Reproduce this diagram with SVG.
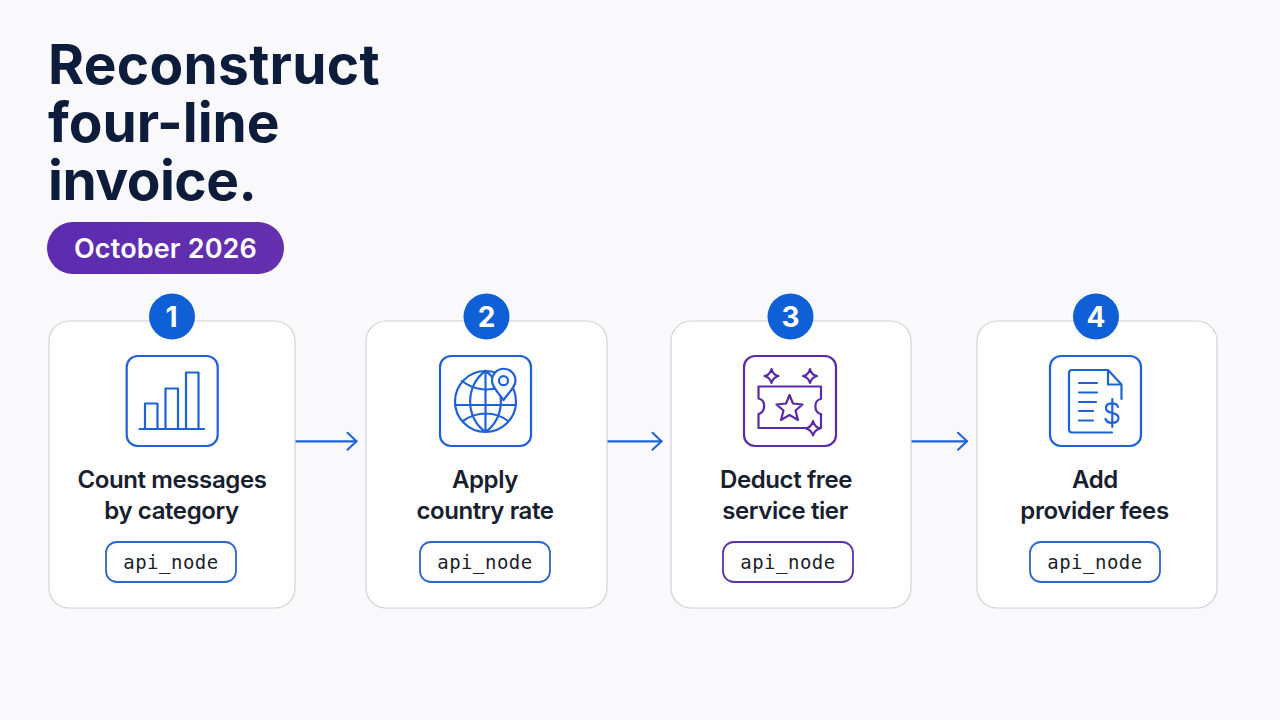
<svg xmlns="http://www.w3.org/2000/svg" width="1280" height="720" viewBox="0 0 1280 720">
<defs>
<linearGradient id="pill" x1="0" y1="0" x2="1" y2="0"><stop offset="0" stop-color="#5b2bb0"/><stop offset="1" stop-color="#6530ae"/></linearGradient>
<marker id="arr" markerUnits="userSpaceOnUse" markerWidth="20" markerHeight="24" refX="15" refY="12" orient="auto" overflow="visible"><path d="M6 3.500L15 12L6 20.500" fill="none" stroke="#1f62d8" stroke-width="2" stroke-linecap="round" stroke-linejoin="round"/></marker>
</defs>
<style>
text{font-family:Inter,"Noto Sans",sans-serif}
.title{font-size:55px;font-weight:700;fill:#0e1c3b}
.pilltxt{font-size:27px;font-weight:600;fill:#fff;text-anchor:middle;letter-spacing:.15px}
.card{fill:#fff;stroke:#d0d2d8;stroke-width:1.2}
.badge{fill:#0f5fd6}
.num{font-size:28px;font-weight:700;fill:#fff;text-anchor:middle}
.lbl{font-size:24px;font-weight:600;fill:#16202f;text-anchor:middle;letter-spacing:-.4px}
.mono{font-family:"DejaVu Sans Mono","Liberation Mono",monospace;font-size:19px;fill:#1a1f2b;text-anchor:middle;letter-spacing:.5px}
.b{fill:none;stroke:#1f62d8;stroke-width:2.200;stroke-linecap:round;stroke-linejoin:round}
.p{fill:none;stroke:#5a2aa8;stroke-width:2.200;stroke-linecap:round;stroke-linejoin:round}
.tagb{fill:#fff;stroke:#2a66cc;stroke-width:1.800}
.tagp{fill:#fff;stroke:#5e33a8;stroke-width:1.800}
</style>
<rect width="1280" height="720" fill="#f9f9fb"/>
<g id="title">
<text class="title" x="48" y="84" style="letter-spacing:.3px">Reconstruct</text>
<text class="title" x="48" y="142">four-line</text>
<text class="title" x="48" y="200" style="letter-spacing:-.5px">invoice.</text>
</g>
<g id="period">
<rect x="47" y="222" width="237" height="52" rx="26" fill="url(#pill)"/>
<text class="pilltxt" x="165.500" y="258">October 2026</text>
</g>
<g id="connectors">
<path class="b" d="M296 441.300H356.500" marker-end="url(#arr)"/>
<path class="b" d="M607 441.300H661.500" marker-end="url(#arr)"/>
<path class="b" d="M912 441.300H967" marker-end="url(#arr)"/>
</g>
<g id="node1">
<rect class="card" x="49" y="321" width="246" height="287" rx="20"/>
<circle class="badge" cx="172" cy="316.500" r="23"/>
<text class="num" x="171.500" y="326.500">1</text>
<rect class="b" x="126.700" y="356" width="91" height="90" rx="11"/>
<path class="b" d="M139.500 429H204M145 429V403.500H157.500V429M165.500 429V388.500H178V429M186 429V372.500H198.500V429"/>
<text class="lbl" x="172" y="488">Count messages</text>
<text class="lbl" x="171.500" y="519">by category</text>
<rect class="tagb" x="106" y="542" width="130" height="40" rx="11"/>
<text class="mono" x="171" y="568.500">api_node</text>
</g>
<g id="node2">
<rect class="card" x="366" y="321" width="241" height="287" rx="20"/>
<circle class="badge" cx="486.500" cy="316.500" r="23"/>
<text class="num" x="486.500" y="326.500">2</text>
<rect class="b" x="440" y="356" width="91" height="90" rx="11"/>
<circle class="b" cx="485.500" cy="401.500" r="30.500"/>
<path class="b" d="M485.500 371C465 385 465 418 485.500 432C506 418 506 385 485.500 371M485.500 371V432M455 405H516M462 381C475 391 490 391 500 387M463 421C477 411 495 411 508 421"/>
<path class="b" style="fill:#fff" d="M503.500 400C497 391 492 387 492 380.500A11.700 11.700 0 0 1 515.500 380.500C515.500 387 510 391 503.500 400Z"/>
<circle class="b" cx="503.500" cy="380.700" r="4.500"/>
<text class="lbl" x="485" y="488">Apply</text>
<text class="lbl" x="485" y="519">country rate</text>
<rect class="tagb" x="420" y="542" width="130" height="40" rx="11"/>
<text class="mono" x="485" y="568.500">api_node</text>
</g>
<g id="node3">
<rect class="card" x="671" y="321" width="240" height="287" rx="20"/>
<circle class="badge" cx="790.500" cy="316.500" r="23"/>
<text class="num" x="790.500" y="326.500">3</text>
<rect class="p" x="744" y="356" width="92" height="90" rx="11"/>
<path class="p" d="M758.500 386.500H821V399C813.500 400 813.500 412 821 414V428H758.500V414C766 412 766 400 758.500 398.500Z"/>
<path class="p" d="M789.500 395L793 403.500L802.500 404.500L795.500 410.500L798 420L789.500 415L781 420L783.500 410.500L776.500 404.500L786 403.500Z"/>
<path class="p" d="M771.500 369Q773 375 778.500 376Q773 377.500 771.500 383Q770 377.500 764.500 376Q770 375 771.500 369ZM810 369Q811.500 375 817 376Q811.500 377.500 810 383Q808.500 377.500 803 376Q808.500 375 810 369Z"/>
<path class="p" style="fill:#fff" d="M813 421Q814.500 427 820 428.500Q814.500 430 813 435.500Q811.500 430 806 428.500Q811.500 427 813 421Z"/>
<text class="lbl" x="786" y="488">Deduct free</text>
<text class="lbl" x="785" y="519">service tier</text>
<rect class="tagp" x="723" y="542" width="130" height="40" rx="11"/>
<text class="mono" x="788" y="568.500">api_node</text>
</g>
<g id="node4">
<rect class="card" x="977" y="321" width="240" height="287" rx="20"/>
<circle class="badge" cx="1096" cy="316.500" r="23"/>
<text class="num" x="1096" y="326.500">4</text>
<rect class="b" x="1050" y="356" width="91" height="90" rx="11"/>
<path class="b" d="M1112 432.500H1072Q1069 432.500 1069 429.500V373Q1069 370 1072 370H1108L1121.500 384.500V399M1108 370V384.500H1121.500M1079 383H1097M1079 392.500H1097M1079 402H1096M1079 411H1093M1079 420.500H1093"/>
<path class="b" d="M1118 407C1116.500 402 1106 402 1106 408C1106 415 1118.500 411 1118.500 418C1118.500 424 1107.500 424.500 1105.500 419M1112.300 399V427"/>
<text class="lbl" x="1095" y="488">Add</text>
<text class="lbl" x="1094.500" y="519">provider fees</text>
<rect class="tagb" x="1030" y="542" width="130" height="40" rx="11"/>
<text class="mono" x="1095" y="568.500">api_node</text>
</g>
</svg>
